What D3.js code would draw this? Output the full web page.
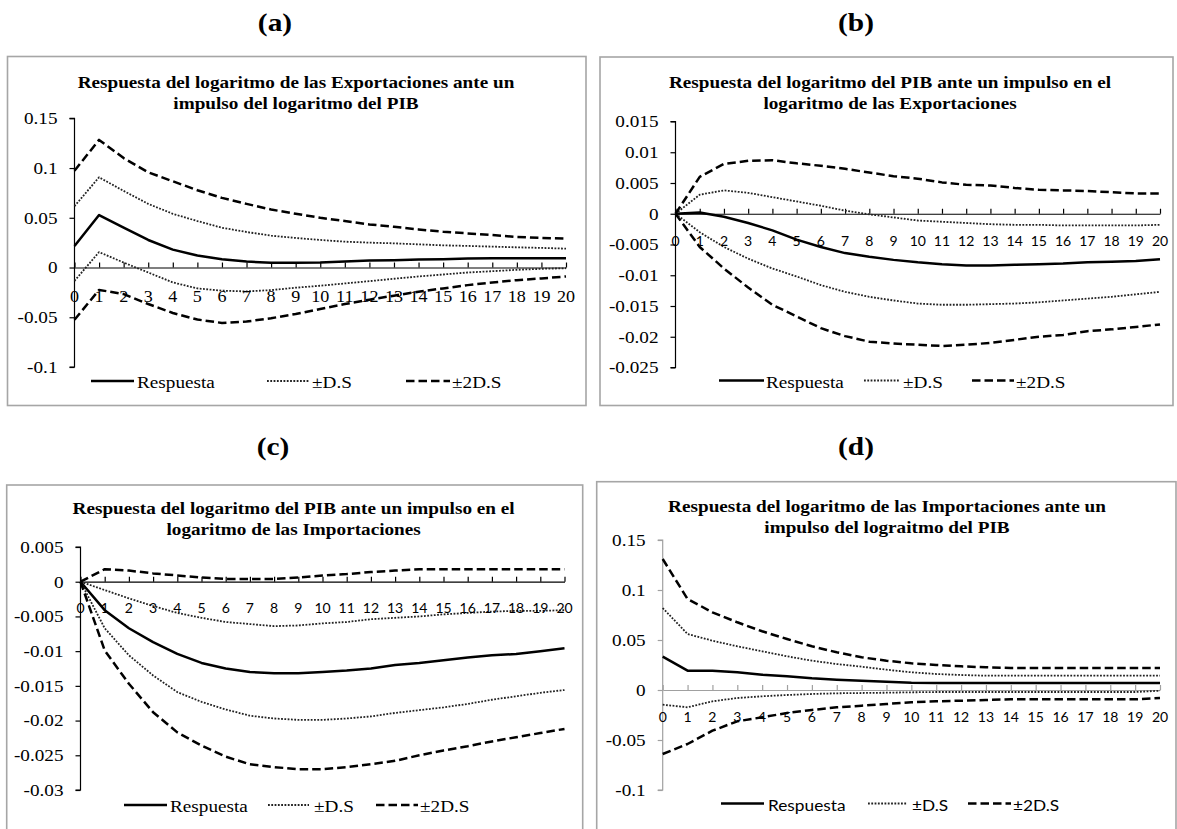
<!DOCTYPE html>
<html>
<head>
<meta charset="utf-8">
<script src="https://cdn.jsdelivr.net/npm/d3@7"></script>
<style>
  html, body { margin: 0; padding: 0; background: #fff; }
  svg { display: block; }
</style>
</head>
<body>
<svg id="chart" width="1177" height="829"></svg>
<script>
// ---------------- DATA ----------------
const periods = [0,1,2,3,4,5,6,7,8,9,10,11,12,13,14,15,16,17,18,19,20];
const seriesNames = ["Respuesta", "±D.S", "±2D.S"];

// Panel (a)
const aTitle = ["Respuesta del logaritmo de las Exportaciones ante un", "impulso del logaritmo del PIB"];
const aYTicks = [-0.1, -0.05, 0, 0.05, 0.1, 0.15];
const aYLabels = ["-0.1", "-0.05", "0", "0.05", "0.1", "0.15"];
const aResp = [0.0217,0.0527,0.040,0.0277,0.018,0.012,0.0083,0.006,0.0047,0.0047,0.005,0.006,0.007,0.0073,0.008,0.0083,0.009,0.0093,0.0093,0.0093,0.0093];
const aUp1  = [0.0617,0.0907,0.077,0.064,0.054,0.0467,0.040,0.0357,0.032,0.0297,0.0277,0.026,0.025,0.0243,0.0233,0.0223,0.0217,0.021,0.0203,0.0197,0.019];
const aLo1  = [-0.0134,0.0155,0.005,-0.005,-0.015,-0.021,-0.0233,-0.024,-0.0227,-0.0203,-0.0183,-0.016,-0.0137,-0.0113,-0.009,-0.007,-0.005,-0.0037,-0.0023,-0.0013,-0.0007];
const aUp2  = [0.0973,0.1283,0.11,0.0957,0.0867,0.0777,0.070,0.064,0.0583,0.054,0.050,0.0467,0.0433,0.041,0.0383,0.036,0.0343,0.0327,0.0307,0.0297,0.029];
const aLo2  = [-0.0525,-0.0225,-0.0267,-0.0367,-0.0457,-0.0523,-0.0557,-0.0543,-0.051,-0.0467,-0.0417,-0.0367,-0.0323,-0.0283,-0.0243,-0.021,-0.0177,-0.015,-0.0127,-0.011,-0.009];

// Panel (b)
const bTitle = ["Respuesta del logaritmo del PIB ante un impulso en el", "logaritmo de las Exportaciones"];
const bYTicks = [-0.025, -0.02, -0.015, -0.01, -0.005, 0, 0.005, 0.01, 0.015];
const bYLabels = ["-0.025", "-0.02", "-0.015", "-0.01", "-0.005", "0", "0.005", "0.01", "0.015"];
const bResp = [0,0.0002,-0.0005,-0.0015,-0.0027,-0.0042,-0.0054,-0.0064,-0.007,-0.0075,-0.0079,-0.0082,-0.0084,-0.0084,-0.0083,-0.0082,-0.0081,-0.0079,-0.0078,-0.0077,-0.0074];
const bUp1  = [0,0.0031,0.0038,0.0034,0.0027,0.002,0.0013,0.0005,-0.0001,-0.0006,-0.0011,-0.0013,-0.0015,-0.0017,-0.0018,-0.0018,-0.0019,-0.0019,-0.0019,-0.0019,-0.0018];
const bLo1  = [0,-0.003,-0.0054,-0.0073,-0.0089,-0.0102,-0.0116,-0.0127,-0.0135,-0.0141,-0.0146,-0.0148,-0.0148,-0.0147,-0.0146,-0.0144,-0.0141,-0.0138,-0.0135,-0.0131,-0.0127];
const bUp2  = [0,0.006,0.0081,0.0086,0.0087,0.0082,0.0078,0.0073,0.0067,0.0061,0.0057,0.0051,0.0047,0.0046,0.0042,0.0039,0.0038,0.0037,0.0035,0.0033,0.0033];
const bLo2  = [0,-0.0054,-0.0089,-0.012,-0.0148,-0.0167,-0.0186,-0.0199,-0.0208,-0.0211,-0.0213,-0.0215,-0.0213,-0.021,-0.0205,-0.02,-0.0197,-0.0191,-0.0188,-0.0184,-0.018];

// Panel (c)
const cTitle = ["Respuesta del logaritmo del PIB ante un impulso en el", "logaritmo de las Importaciones"];
const cYTicks = [-0.03, -0.025, -0.02, -0.015, -0.01, -0.005, 0, 0.005];
const cYLabels = ["-0.03", "-0.025", "-0.02", "-0.015", "-0.01", "-0.005", "0", "0.005"];
const cResp = [0,-0.0041,-0.0067,-0.0087,-0.0104,-0.0117,-0.0125,-0.013,-0.0132,-0.0132,-0.013,-0.0128,-0.0125,-0.012,-0.0117,-0.0113,-0.0109,-0.0106,-0.0104,-0.01,-0.0096];
const cUp1  = [0,-0.0012,-0.0024,-0.0035,-0.0045,-0.0052,-0.0058,-0.0061,-0.0064,-0.0063,-0.006,-0.0058,-0.0054,-0.0052,-0.005,-0.0047,-0.0045,-0.0043,-0.0042,-0.0042,-0.0041];
const cLo1  = [0,-0.0067,-0.0106,-0.0135,-0.0159,-0.0173,-0.0184,-0.0193,-0.0197,-0.0199,-0.0199,-0.0197,-0.0194,-0.0189,-0.0185,-0.0181,-0.0176,-0.017,-0.0165,-0.016,-0.0156];
const cUp2  = [0,0.0018,0.0016,0.0012,0.0009,0.0006,0.0004,0.0004,0.0004,0.0006,0.0009,0.0011,0.0014,0.0016,0.0018,0.0018,0.0018,0.0018,0.0018,0.0018,0.0018];
const cLo2  = [0,-0.0099,-0.0147,-0.0188,-0.0217,-0.0236,-0.0252,-0.0263,-0.0267,-0.027,-0.027,-0.0267,-0.0263,-0.0258,-0.025,-0.0243,-0.0237,-0.023,-0.0224,-0.0218,-0.0212];

// Panel (d)
const dTitle = ["Respuesta del logaritmo de las Importaciones ante un", "impulso del lograitmo del PIB"];
const dYTicks = [-0.1, -0.05, 0, 0.05, 0.1, 0.15];
const dYLabels = ["-0.1", "-0.05", "0", "0.05", "0.1", "0.15"];
const dResp = [0.0333,0.0193,0.0193,0.0177,0.0153,0.0137,0.0117,0.0103,0.0093,0.0083,0.0073,0.007,0.007,0.007,0.007,0.007,0.007,0.007,0.007,0.007,0.007];
const dUp1  = [0.082,0.056,0.0493,0.0437,0.0387,0.0337,0.0293,0.026,0.0233,0.0203,0.0177,0.016,0.015,0.0143,0.0143,0.0143,0.0143,0.0143,0.0143,0.0143,0.0143];
const dLo1  = [-0.0147,-0.0173,-0.0113,-0.008,-0.0063,-0.005,-0.004,-0.0033,-0.003,-0.0027,-0.0023,-0.002,-0.002,-0.002,-0.002,-0.002,-0.002,-0.002,-0.002,-0.002,-0.0007];
const dUp2  = [0.131,0.091,0.0777,0.0677,0.0587,0.051,0.0437,0.0377,0.0327,0.0293,0.0267,0.025,0.0237,0.0227,0.022,0.022,0.022,0.022,0.022,0.022,0.022];
const dLo2  = [-0.064,-0.054,-0.0407,-0.0313,-0.0273,-0.023,-0.02,-0.0173,-0.0157,-0.014,-0.0123,-0.0113,-0.0107,-0.01,-0.0093,-0.0093,-0.0093,-0.0093,-0.0093,-0.0093,-0.008];

const panelLetters = ["(a)", "(b)", "(c)", "(d)"];

// ---------------- LAYOUT / STYLE ----------------
const SERIF = "'Liberation Serif', 'Times New Roman', serif";
const SANS = "Lato, 'Liberation Sans', sans-serif";
const SX = 1.13;

const panels = [
  { letter: panelLetters[0], letterX: 275, letterY: 30.5,
    box: [7.5, 56.5, 586, 405.5], title: aTitle, titleX: 296, titleY: 87.5,
    x0: 74.5, x1: 566, yDom: [-0.1, 0.15], yRange: [367, 118.3],
    yTicks: aYTicks, yLabels: aYLabels, axisColor: "#000",
    xFont: SERIF, xSize: 16, xSX: SX, xOff: 34,
    series: [aResp, aUp1, aLo1, aUp2, aLo2],
    leg: { y: 381, font: SERIF, size: 17, sx: SX,
           items: [[91, 134, 137], [267, 309, 312], [406, 450, 452]] } },
  { letter: panelLetters[1], letterX: 856, letterY: 30.5,
    box: [600, 57, 1173, 405.5], title: bTitle, titleX: 890, titleY: 87.5,
    x0: 675.5, x1: 1160, yDom: [-0.025, 0.015], yRange: [367.5, 121.5],
    yTicks: bYTicks, yLabels: bYLabels, axisColor: "#000",
    xFont: SANS, xSize: 14, xSX: 1, xOff: 32,
    series: [bResp, bUp1, bLo1, bUp2, bLo2],
    leg: { y: 380.5, font: SERIF, size: 17, sx: SX,
           items: [[719, 764, 766], [864, 899, 903], [972, 1014, 1016]] } },
  { letter: panelLetters[2], letterX: 273, letterY: 455,
    box: [6.7, 485, 582.7, 860], title: cTitle, titleX: 293.6, titleY: 514,
    x0: 80.5, x1: 564.5, yDom: [-0.03, 0.005], yRange: [790, 547],
    yTicks: cYTicks, yLabels: cYLabels, axisColor: "#000",
    xFont: SANS, xSize: 14, xSX: 1, xOff: 31.5,
    series: [cResp, cUp1, cLo1, cUp2, cLo2],
    leg: { y: 805, font: SERIF, size: 17, sx: SX,
           items: [[124, 167, 170], [268, 309, 314], [376, 418, 420]] } },
  { letter: panelLetters[3], letterX: 856, letterY: 455,
    box: [596.7, 481.7, 1176, 860], title: dTitle, titleX: 887, titleY: 512,
    x0: 662.7, x1: 1160, yDom: [-0.1, 0.15], yRange: [790, 540],
    yTicks: dYTicks, yLabels: dYLabels, axisColor: "#a0a0a0",
    xFont: SANS, xSize: 14, xSX: 1, xOff: 32,
    series: [dResp, dUp1, dLo1, dUp2, dLo2],
    leg: { y: 803.5, font: SANS, size: 16, sx: 1.08,
           items: [[721, 764, 768], [868, 907, 912], [968, 1011, 1013]] } }
];

const styles = [
  { w: 2.5, dash: null, color: "#000" },
  { w: 1.8, dash: "1.8,1.5", color: "#222" },
  { w: 2.5, dash: "8.5,4", color: "#000" }
];
const seriesStyle = [0, 1, 1, 2, 2];

// ---------------- DRAW ----------------
const svg = d3.select("#chart");
svg.append("rect").attr("width", 1177).attr("height", 829).attr("fill", "#fff");

function txt(parent, x, y, s, o) {
  parent.append("text")
    .attr("transform", `translate(${x},${y}) scale(${o.sx || 1},1)`)
    .attr("text-anchor", o.anchor || "start")
    .style("font-family", o.family)
    .style("font-size", o.size + "px")
    .style("font-weight", o.weight || "normal")
    .attr("fill", o.color || "#000")
    .text(s);
}

panels.forEach(p => {
  const g = svg.append("g");
  // panel letter
  txt(g, p.letterX, p.letterY, p.letter, { family: SERIF, size: 26, weight: "bold", anchor: "middle", sx: SX });
  // box
  g.append("rect")
    .attr("x", p.box[0]).attr("y", p.box[1])
    .attr("width", p.box[2] - p.box[0]).attr("height", p.box[3] - p.box[1])
    .attr("fill", "none").attr("stroke", "#a6a6a6").attr("stroke-width", 1.6);
  // title
  p.title.forEach((line, i) => {
    txt(g, p.titleX, p.titleY + i * 21, line, { family: SERIF, size: 17, weight: "bold", anchor: "middle", sx: SX });
  });

  const x = d3.scaleLinear().domain([periods[0], periods[periods.length - 1]]).range([p.x0, p.x1]);
  const y = d3.scaleLinear().domain(p.yDom).range(p.yRange);

  // y axis
  const yAxis = d3.axisLeft(y).tickValues(p.yTicks).tickSize(5).tickFormat(() => "");
  const ya = g.append("g").attr("transform", `translate(${p.x0},0)`).call(yAxis);
  ya.select(".domain").attr("stroke", p.axisColor).attr("stroke-width", 1.2)
    .attr("d", `M-5,${y(p.yDom[1])}H0V${y(p.yDom[0])}H-5`);
  ya.selectAll(".tick line").attr("stroke", p.axisColor).attr("stroke-width", 1.2);
  p.yTicks.forEach((v, i) => {
    txt(g, p.x0 - 17, y(v) + 5.8, p.yLabels[i], { family: SERIF, size: 17, anchor: "end", sx: SX });
  });

  // x axis at zero
  const xAxis = d3.axisTop(x).tickValues(periods).tickSize(5).tickSizeOuter(0).tickFormat(() => "");
  const xa = g.append("g").attr("transform", `translate(0,${y(0)})`).call(xAxis);
  xa.select(".domain").attr("stroke", p.axisColor).attr("stroke-width", 1.2);
  xa.selectAll(".tick line").attr("stroke", p.axisColor).attr("stroke-width", 1.2);

  // lines
  const line = d3.line().x((d, i) => x(periods[i])).y(d => y(d));
  p.series.forEach((s, k) => {
    const st = styles[seriesStyle[k]];
    g.append("path").datum(s).attr("d", line)
      .attr("fill", "none").attr("stroke", st.color).attr("stroke-width", st.w)
      .attr("stroke-dasharray", st.dash).attr("stroke-linejoin", "round");
  });

  // x tick labels (drawn over the lines like the original)
  periods.forEach(v => {
    txt(g, x(v), y(0) + p.xOff, String(v), { family: p.xFont, size: p.xSize, anchor: "middle", sx: p.xSX });
  });

  // legend
  p.leg.items.forEach((it, k) => {
    const st = styles[k];
    g.append("line").attr("x1", it[0]).attr("x2", it[1]).attr("y1", p.leg.y).attr("y2", p.leg.y)
      .attr("stroke", st.color).attr("stroke-width", st.w).attr("stroke-dasharray", st.dash);
    txt(g, it[2], p.leg.y + 7.3, seriesNames[k], { family: p.leg.font, size: p.leg.size, anchor: "start", sx: p.leg.sx });
  });
});
</script>
</body>
</html>
